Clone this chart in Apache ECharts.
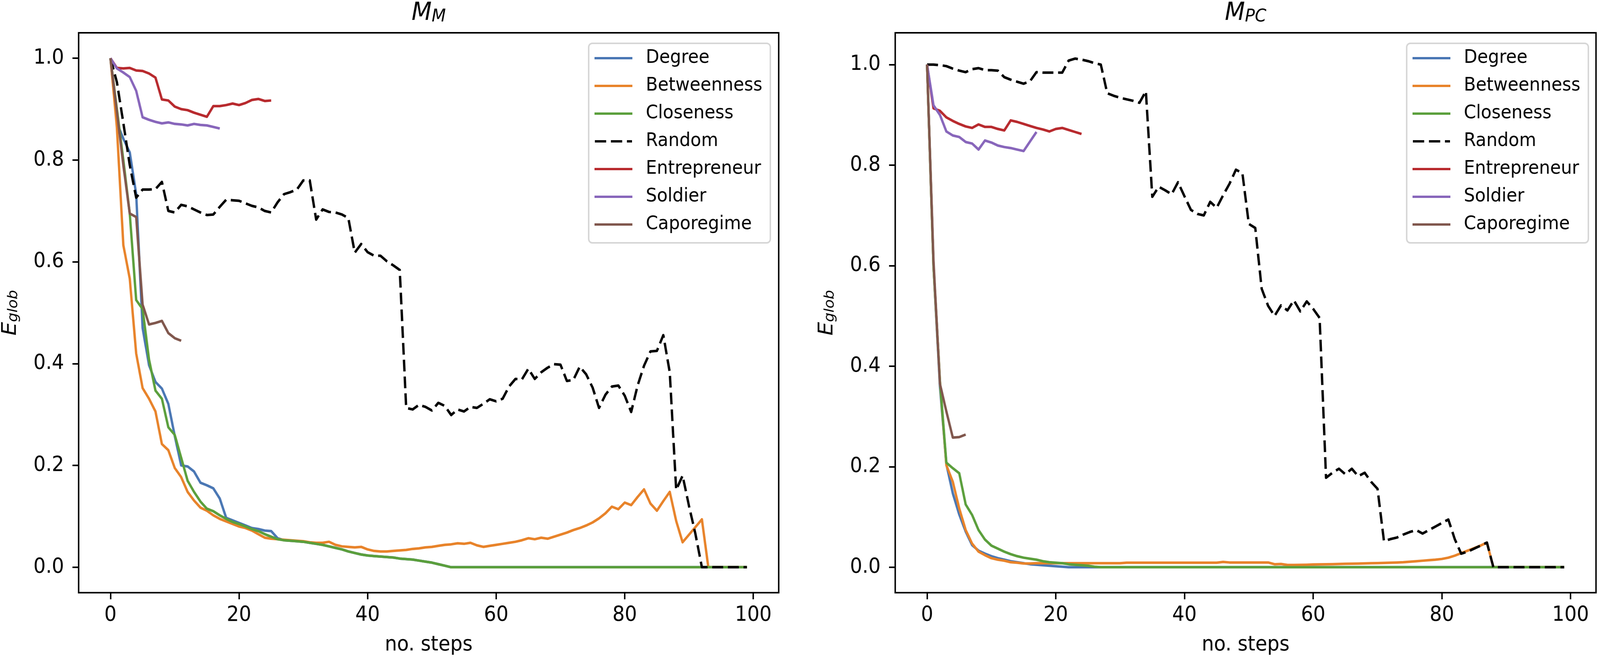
<!DOCTYPE html>
<html>
<head>
<meta charset="utf-8">
<title>E_glob per step</title>
<script src="https://cdn.jsdelivr.net/npm/echarts@6/dist/echarts.min.js"></script>
<style>
	html, body { margin: 0; padding: 0; background: #fff; overflow: hidden; }
	#outer { width: 4395px; height: 1693px; overflow: hidden; }
	#wrap { width: 4395px; height: 1693px; transform-origin: 0 0; }
	#chart { width: 4395px; height: 1693px; }
</style>
</head>
<body>
<div id="outer"><div id="wrap"><div id="chart"></div></div></div>
<script>
// series names and colours, same order in both panels
var names = ['Degree', 'Betweenness', 'Closeness', 'Random', 'Entrepreneur', 'Soldier', 'Caporegime'];
var colors = ['#4a77b4', '#e8832a', '#5b9f3c', '#000000', '#b82a2e', '#8866bb', '#80574d'];

var xTicks = [0, 20, 40, 60, 80, 100];
var yTicks = [0, 0.2, 0.4, 0.6, 0.8, 1.0];

// ---- M_M : value at step 0,1,2,...
var degreeM = [1.0, 0.873, 0.842, 0.815, 0.733, 0.470, 0.397, 0.364, 0.351, 0.321,
	0.258, 0.200, 0.198, 0.188, 0.166, 0.161, 0.155, 0.135, 0.097, 0.092,
	0.087, 0.082, 0.077, 0.075, 0.072, 0.071, 0.057, 0.053, 0.052, 0.051,
	0.050, 0.048, 0.046, 0.044, 0.041, 0.038, 0.035, 0.031, 0.028, 0.025,
	0.023, 0.022, 0.021, 0.020, 0.019, 0.017, 0.016, 0.015, 0.013, 0.011,
	0.009, 0.006, 0.003, 0, 0, 0, 0, 0, 0, 0,
	0, 0, 0, 0, 0, 0, 0, 0, 0, 0,
	0, 0, 0, 0, 0, 0, 0, 0, 0, 0,
	0, 0, 0, 0, 0, 0, 0, 0, 0, 0,
	0, 0, 0, 0, 0, 0, 0, 0, 0, 0];
var betweennessM = [1.0, 0.864, 0.633, 0.567, 0.420, 0.352, 0.331, 0.306, 0.242, 0.230,
	0.195, 0.177, 0.148, 0.131, 0.117, 0.111, 0.102, 0.095, 0.090, 0.085,
	0.080, 0.077, 0.072, 0.065, 0.058, 0.056, 0.055, 0.054, 0.053, 0.052,
	0.051, 0.049, 0.048, 0.048, 0.050, 0.044, 0.041, 0.040, 0.039, 0.040,
	0.035, 0.032, 0.031, 0.031, 0.032, 0.033, 0.034, 0.036, 0.037, 0.039,
	0.040, 0.042, 0.044, 0.045, 0.047, 0.046, 0.048, 0.043, 0.040, 0.042,
	0.044, 0.046, 0.048, 0.050, 0.053, 0.057, 0.055, 0.058, 0.056, 0.060,
	0.064, 0.068, 0.073, 0.077, 0.082, 0.088, 0.096, 0.106, 0.119, 0.114,
	0.127, 0.122, 0.138, 0.153, 0.125, 0.111, 0.130, 0.148, 0.091, 0.049,
	0.064, 0.079, 0.094, 0, 0, 0, 0, 0, 0, 0];
var closenessM = [1.0, 0.900, 0.800, 0.695, 0.525, 0.507, 0.408, 0.347, 0.331, 0.275,
	0.260, 0.215, 0.170, 0.148, 0.129, 0.115, 0.110, 0.102, 0.095, 0.089,
	0.085, 0.080, 0.075, 0.071, 0.065, 0.060, 0.055, 0.053, 0.052, 0.051,
	0.050, 0.048, 0.046, 0.044, 0.041, 0.038, 0.035, 0.031, 0.028, 0.025,
	0.023, 0.022, 0.021, 0.020, 0.019, 0.017, 0.016, 0.015, 0.013, 0.011,
	0.009, 0.006, 0.003, 0, 0, 0, 0, 0, 0, 0,
	0, 0, 0, 0, 0, 0, 0, 0, 0, 0,
	0, 0, 0, 0, 0, 0, 0, 0, 0, 0,
	0, 0, 0, 0, 0, 0, 0, 0, 0, 0,
	0, 0, 0, 0, 0, 0, 0, 0, 0, 0];
var randomM = [1.0, 0.953, 0.873, 0.790, 0.726, 0.742, 0.742, 0.743, 0.757, 0.700,
	0.697, 0.712, 0.709, 0.703, 0.697, 0.692, 0.693, 0.708, 0.722, 0.721,
	0.720, 0.715, 0.710, 0.707, 0.700, 0.697, 0.717, 0.733, 0.737, 0.742,
	0.760, 0.760, 0.683, 0.703, 0.698, 0.697, 0.693, 0.686, 0.618, 0.635,
	0.619, 0.612, 0.612, 0.601, 0.593, 0.584, 0.313, 0.310, 0.319, 0.315,
	0.308, 0.323, 0.317, 0.299, 0.310, 0.306, 0.315, 0.313, 0.321, 0.330,
	0.326, 0.331, 0.355, 0.370, 0.369, 0.390, 0.370, 0.383, 0.392, 0.399,
	0.398, 0.366, 0.368, 0.394, 0.379, 0.353, 0.313, 0.339, 0.355, 0.357,
	0.337, 0.305, 0.357, 0.396, 0.424, 0.425, 0.456, 0.383, 0.152, 0.180,
	0.120, 0.065, 0, 0, 0, 0, 0, 0, 0, 0];
var entrepreneurM = [1.0, 0.981, 0.980, 0.981, 0.976, 0.975, 0.970, 0.962, 0.919, 0.917,
	0.905, 0.900, 0.898, 0.893, 0.889, 0.885, 0.906, 0.906, 0.908, 0.911,
	0.908, 0.912, 0.918, 0.920, 0.916, 0.917];
var soldierM = [1.0, 0.980, 0.972, 0.963, 0.936, 0.884, 0.879, 0.875, 0.872, 0.874,
	0.871, 0.870, 0.868, 0.871, 0.869, 0.868, 0.865, 0.862];
var caporegimeM = [1.0, 0.895, 0.790, 0.695, 0.688, 0.516, 0.477, 0.480, 0.484, 0.460,
	0.450, 0.445];

// ---- M_PC
var degreePC = [1.0, 0.600, 0.360, 0.205, 0.147, 0.105, 0.071, 0.044, 0.033, 0.027,
	0.022, 0.018, 0.015, 0.012, 0.010, 0.008, 0.006, 0.005, 0.004, 0.003,
	0.002, 0.001, 0, 0, 0, 0, 0, 0, 0, 0,
	0, 0, 0, 0, 0, 0, 0, 0, 0, 0,
	0, 0, 0, 0, 0, 0, 0, 0, 0, 0,
	0, 0, 0, 0, 0, 0, 0, 0, 0, 0,
	0, 0, 0, 0, 0, 0, 0, 0, 0, 0,
	0, 0, 0, 0, 0, 0, 0, 0, 0, 0,
	0, 0, 0, 0, 0, 0, 0, 0, 0, 0,
	0, 0, 0, 0, 0, 0, 0, 0, 0, 0];
var betweennessPC = [1.0, 0.600, 0.370, 0.203, 0.170, 0.117, 0.074, 0.047, 0.031, 0.024,
	0.018, 0.015, 0.013, 0.010, 0.009, 0.0075, 0.0075, 0.008, 0.008, 0.008,
	0.008, 0.008, 0.008, 0.008, 0.008, 0.008, 0.008, 0.008, 0.008, 0.008,
	0.008, 0.009, 0.009, 0.009, 0.009, 0.009, 0.009, 0.009, 0.009, 0.009,
	0.009, 0.009, 0.009, 0.009, 0.009, 0.009, 0.0105, 0.0095, 0.0095, 0.0095,
	0.0095, 0.0095, 0.0095, 0.0095, 0.006, 0.0065, 0.0045, 0.0045, 0.0047, 0.005,
	0.0055, 0.0057, 0.006, 0.0062, 0.0065, 0.0068, 0.007, 0.0073, 0.0076, 0.008,
	0.0083, 0.0087, 0.009, 0.0095, 0.010, 0.011, 0.012, 0.013, 0.014, 0.015,
	0.0165, 0.019, 0.023, 0.028, 0.033, 0.038, 0.043, 0.049, 0, 0,
	0, 0, 0, 0, 0, 0, 0, 0, 0, 0];
var closenessPC = [1.0, 0.600, 0.370, 0.208, 0.197, 0.187, 0.125, 0.104, 0.074, 0.055,
	0.043, 0.037, 0.031, 0.026, 0.022, 0.019, 0.017, 0.015, 0.012, 0.010,
	0.009, 0.008, 0.006, 0.005, 0.004, 0.003, 0.001, 0, 0, 0,
	0, 0, 0, 0, 0, 0, 0, 0, 0, 0,
	0, 0, 0, 0, 0, 0, 0, 0, 0, 0,
	0, 0, 0, 0, 0, 0, 0, 0, 0, 0,
	0, 0, 0, 0, 0, 0, 0, 0, 0, 0,
	0, 0, 0, 0, 0, 0, 0, 0, 0, 0,
	0, 0, 0, 0, 0, 0, 0, 0, 0, 0,
	0, 0, 0, 0, 0, 0, 0, 0, 0, 0];
var randomPC = [1.0, 1.0, 0.999, 0.997, 0.992, 0.988, 0.985, 0.991, 0.993, 0.989,
	0.989, 0.988, 0.975, 0.970, 0.966, 0.962, 0.967, 0.985, 0.984, 0.984,
	0.984, 0.984, 1.008, 1.012, 1.010, 1.007, 1.003, 1.000, 0.943, 0.938,
	0.934, 0.931, 0.928, 0.924, 0.947, 0.737, 0.757, 0.750, 0.742, 0.766,
	0.738, 0.711, 0.703, 0.700, 0.727, 0.715, 0.740, 0.763, 0.791, 0.784,
	0.683, 0.675, 0.554, 0.520, 0.500, 0.521, 0.511, 0.531, 0.509, 0.529,
	0.514, 0.496, 0.178, 0.188, 0.196, 0.185, 0.196, 0.181, 0.188, 0.170,
	0.156, 0.052, 0.056, 0.059, 0.065, 0.070, 0.074, 0.067, 0.074, 0.081,
	0.088, 0.095, 0.056, 0.027, 0.031, 0.037, 0.043, 0.049, 0, 0,
	0, 0, 0, 0, 0, 0, 0, 0, 0, 0];
var entrepreneurPC = [1.0, 0.913, 0.908, 0.895, 0.888, 0.882, 0.877, 0.874, 0.881, 0.876,
	0.876, 0.872, 0.869, 0.889, 0.886, 0.882, 0.878, 0.874, 0.871, 0.867,
	0.872, 0.874, 0.870, 0.866, 0.862];
var soldierPC = [1.0, 0.919, 0.900, 0.867, 0.859, 0.856, 0.846, 0.843, 0.831, 0.849,
	0.845, 0.839, 0.836, 0.834, 0.831, 0.828, 0.847, 0.866];
var caporegimePC = [1.0, 0.610, 0.365, 0.310, 0.258, 0.259, 0.264];

var panelM = [degreeM, betweennessM, closenessM, randomM, entrepreneurM, soldierM, caporegimeM];
var panelPC = [degreePC, betweennessPC, closenessPC, randomPC, entrepreneurPC, soldierPC, caporegimePC];

var FONT = 'DejaVu Sans';

// the page is laid out for 4395x1693; the browser caps the viewport (4096 wide),
// so squeeze the whole page into whatever viewport we actually get
fitPage = function(){
	var sx = window.innerWidth / 4395, sy = window.innerHeight / 1693;
	if(sx > 1) sx = 1;
	if(sy > 1) sy = 1;
	if(sx > 0 && sy > 0 && (sx < 1 || sy < 1)){
		document.getElementById('wrap').style.transform = 'scale(' + sx + ',' + sy + ')';
		document.getElementById('outer').style.width = Math.floor(4395 * sx) + 'px';
		document.getElementById('outer').style.height = Math.floor(1693 * sy) + 'px';
	}
};

// step index -> x
toPoints = function(vals){
	return vals.map(function(v, i){ return [i, v]; });
};

buildSeries = function(panel, idx){
	var out = [];
	for(var i = 0; i < panel.length; i++){
		out.push({
			name: names[i],
			type: 'line',
			xAxisIndex: idx,
			yAxisIndex: idx,
			data: toPoints(panel[i]),
			showSymbol: false,
			symbol: 'none',
			silent: true,
			color: colors[i],
			lineStyle: {
				color: colors[i],
				width: 6.5,
				type: names[i] == 'Random' ? [30, 13] : 'solid',
				join: 'round',
				cap: 'butt'
			}
		});
	}
	return out;
};

buildXAxis = function(idx){
	return {
		type: 'value',
		gridIndex: idx,
		min: -4.95,
		max: 103.95,
		name: 'no. steps',
		nameLocation: 'middle',
		nameGap: 108,
		nameTextStyle: { fontFamily: FONT, fontSize: 53, color: '#000' },
		axisLine: { show: false, onZero: false },
		axisTick: { show: true, customValues: xTicks, length: 17, lineStyle: { color: '#000', width: 4 } },
		axisLabel: { customValues: xTicks, fontFamily: FONT, fontSize: 53, color: '#000', margin: 32 },
		splitLine: { show: false }
	};
};

buildYAxis = function(idx, lo, hi){
	return {
		type: 'value',
		gridIndex: idx,
		min: lo,
		max: hi,
		name: '{e|E}{s|glob}',
		nameLocation: 'middle',
		nameGap: 160,
		nameTextStyle: {
			color: '#000',
			rich: {
				e: { fontFamily: FONT, fontStyle: 'italic', fontSize: 55, lineHeight: 55, color: '#000' },
				s: { fontFamily: FONT, fontStyle: 'italic', fontSize: 38, lineHeight: 27, verticalAlign: 'bottom', color: '#000' }
			}
		},
		axisLine: { show: false, onZero: false },
		axisTick: { show: true, customValues: yTicks, length: 17, lineStyle: { color: '#000', width: 4 } },
		axisLabel: {
			customValues: yTicks,
			fontFamily: FONT, fontSize: 53, color: '#000', margin: 40,
			formatter: function(v){ return v.toFixed(1); }
		},
		splitLine: { show: false }
	};
};

buildTitle = function(sub, cx){
	return {
		text: '{m|M}{s|' + sub + '}',
		left: cx,
		top: 2,
		padding: 0,
		textAlign: 'center',
		textStyle: {
			fontWeight: 'normal',
			rich: {
				m: { fontFamily: FONT, fontStyle: 'italic', fontWeight: 'normal', fontSize: 64, lineHeight: 64, color: '#000' },
				s: { fontFamily: FONT, fontStyle: 'italic', fontWeight: 'normal', fontSize: 45, lineHeight: 33, verticalAlign: 'bottom', color: '#000' }
			}
		}
	};
};

buildLegend = function(right){
	var items = [];
	for(var i = 0; i < names.length; i++){
		items.push({
			name: names[i],
			icon: names[i] == 'Random' ? 'path://M0,0h31v6h-31z M44,0h31v6h-31z M88,0h14v6h-14z' : 'rect'
		});
	}
	return {
		orient: 'vertical',
		right: right,
		top: 111,
		data: items,
		itemWidth: 104,
		itemHeight: 6,
		itemGap: 23,
		selectedMode: false,
		padding: [14, 22, 23, 16],
		backgroundColor: 'rgba(255,255,255,0.8)',
		borderColor: '#d6d6d6',
		borderWidth: 4,
		borderRadius: 10,
		itemStyle: { borderWidth: 0 },
		textStyle: { fontFamily: FONT, fontSize: 48, lineHeight: 48, color: '#000', padding: [0, 0, 0, 32] }
	};
};

fitPage();

var chart = echarts.init(document.getElementById('chart'), null, { renderer: 'canvas', width: 4395, height: 1693 });

var option = {
	animation: false,
	backgroundColor: '#fff',
	textStyle: { fontFamily: FONT },
	title: [buildTitle('M', 1177.5), buildTitle('PC', 3421.5)],
	legend: [buildLegend(2279), buildLegend(32)],
	grid: [
		{ left: 216, top: 84, width: 1923, height: 1434, show: true, borderColor: '#000', borderWidth: 4, backgroundColor: 'transparent' },
		{ left: 2459, top: 84, width: 1925, height: 1434, show: true, borderColor: '#000', borderWidth: 4, backgroundColor: 'transparent' }
	],
	xAxis: [buildXAxis(0), buildXAxis(1)],
	yAxis: [buildYAxis(0, -0.05, 1.05), buildYAxis(1, -0.0506, 1.0633)],
	series: buildSeries(panelM, 0).concat(buildSeries(panelPC, 1))
};

chart.setOption(option);
</script>
</body>
</html>
